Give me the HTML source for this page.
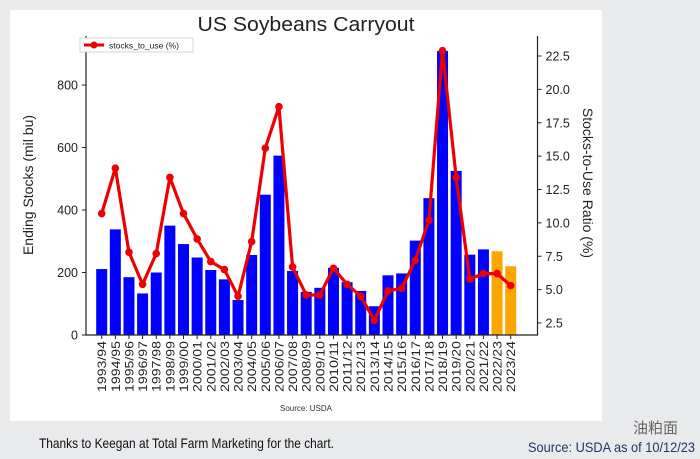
<!DOCTYPE html>
<html><head><meta charset="utf-8"><style>
html,body{margin:0;padding:0;width:700px;height:459px;overflow:hidden;background:#e9eaec;font-family:"Liberation Sans","Noto Sans CJK SC",sans-serif;}
</style></head><body>
<svg width="700" height="459" viewBox="0 0 700 459" xmlns="http://www.w3.org/2000/svg">
<rect x="0" y="0" width="700" height="459" fill="#e9eaec"/>
<rect x="10" y="10" width="592" height="411" fill="#ffffff"/>
<text x="306" y="31" text-anchor="middle" font-size="20" textLength="217" lengthAdjust="spacingAndGlyphs" fill="#222">US Soybeans Carryout</text>
<g id="plot"></g>
<text transform="translate(33,185) rotate(-90)" text-anchor="middle" font-size="14" fill="#222">Ending Stocks (mil bu)</text>
<text transform="translate(583,183) rotate(90)" text-anchor="middle" font-size="14" fill="#222">Stocks-to-Use Ratio (%)</text>
<text x="306" y="411" text-anchor="middle" font-size="8" fill="#333">Source: USDA</text>
<g>
<rect x="80" y="38" width="113" height="14" fill="#fff" stroke="#ccc" stroke-width="0.8"/>
<line x1="84" y1="45" x2="104" y2="45" stroke="#ee0000" stroke-width="3"/>
<circle cx="94" cy="45" r="3.5" fill="#ee0000"/>
<text x="109" y="48.5" font-size="8.5" fill="#222">stocks_to_use (%)</text>
</g>
<text x="39" y="448" font-size="14" textLength="295" lengthAdjust="spacingAndGlyphs" fill="#111">Thanks to Keegan at Total Farm Marketing for the chart.</text>
<text x="528" y="452" font-size="14" textLength="167" lengthAdjust="spacingAndGlyphs" fill="#1f3864">Source: USDA as of 10/12/23</text>
<text x="678" y="433" text-anchor="end" font-size="15" fill="#666">油粕面</text>
</svg>
<script>
const categories=["1993/94","1994/95","1995/96","1996/97","1997/98","1998/99","1999/00","2000/01","2001/02","2002/03","2003/04","2004/05","2005/06","2006/07","2007/08","2008/09","2009/10","2010/11","2011/12","2012/13","2013/14","2014/15","2015/16","2016/17","2017/18","2018/19","2019/20","2020/21","2021/22","2022/23","2023/24"];
const endingStocks=[211,338,185,133,200,350,291,248,208,178,112,256,449,574,205,138,151,215,169,141,92,191,197,302,438,909,525,257,274,268,220];
const stocksToUse=[10.7,14.1,7.8,5.4,7.7,13.4,10.7,8.8,7.1,6.5,4.5,8.6,15.6,18.7,6.7,4.6,4.6,6.6,5.4,4.5,2.7,4.9,5.1,7.2,10.2,22.9,13.4,5.8,6.2,6.2,5.3];
const projected=[false,false,false,false,false,false,false,false,false,false,false,false,false,false,false,false,false,false,false,false,false,false,false,false,false,false,false,false,false,true,true];
const leftTicks=[0,200,400,600,800];
const rightTicks=[2.5,5.0,7.5,10.0,12.5,15.0,17.5,20.0,22.5];
const NS="http://www.w3.org/2000/svg";
const g=document.getElementById('plot');
const L=86,R=537.5,T=36,B=335;
const x0=101.7,step=(510.7-101.7)/30;
function xPos(i){return x0+i*step;}
function yLeft(v){return B-v*(250/800);}
function yRight(v){return 323-(v-2.5)*((323-56)/20);}
function mk(tag,attrs){const e=document.createElementNS(NS,tag);for(const k in attrs)e.setAttribute(k,attrs[k]);g.appendChild(e);return e;}
categories.forEach((c,i)=>{
  const e=mk('rect',{x:xPos(i)-5.5,y:yLeft(endingStocks[i]),width:11,height:B-yLeft(endingStocks[i]),fill:projected[i]?'#ffa500':'#0000ff'});
  
  
  const t=mk('line',{x1:xPos(i),y1:B,x2:xPos(i),y2:B+4,stroke:'#222','stroke-width':1});
  
  
  const lb=mk('text',{transform:`translate(${xPos(i)+4.5},341) rotate(-90)`,'text-anchor':'end','font-size':12,textLength:51,lengthAdjust:'spacingAndGlyphs',fill:'#222'});
  lb.textContent=c;
  
  
});
let pts=stocksToUse.map((v,i)=>xPos(i)+','+yRight(v)).join(' ');
const pl=mk('polyline',{points:pts,fill:'none',stroke:'#ee0000','stroke-width':3.2,'stroke-linejoin':'round'});


stocksToUse.forEach((v,i)=>{
  const c=mk('circle',{cx:xPos(i),cy:yRight(v),r:3.8,fill:'#ee0000'});
  
  
});
const ax=mk('path',{d:`M${L},${T} V${B} H${R} V${T}`,fill:'none',stroke:'#222','stroke-width':1.2});


leftTicks.forEach(v=>{
  const t=mk('line',{x1:L-4,y1:yLeft(v),x2:L,y2:yLeft(v),stroke:'#222'});
  
  
  const lb=mk('text',{x:L-8,y:yLeft(v)+4.5,'text-anchor':'end','font-size':12.5,fill:'#222'});
  lb.textContent=v;
  
  
});
rightTicks.forEach(v=>{
  const t=mk('line',{x1:R,y1:yRight(v),x2:R+4,y2:yRight(v),stroke:'#222'});
  
  
  const lb=mk('text',{x:R+8,y:yRight(v)+4.5,'font-size':12.5,fill:'#222'});
  lb.textContent=v.toFixed(1);
  
  
});
</script>
</body></html>
